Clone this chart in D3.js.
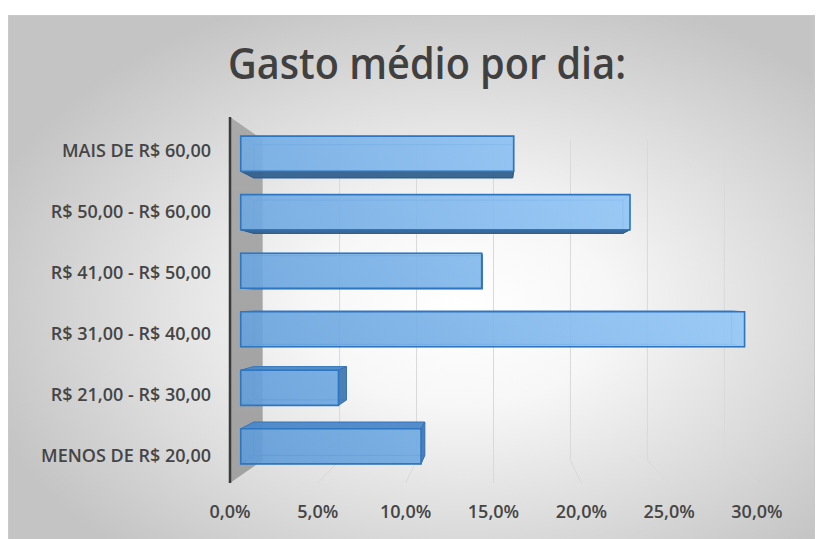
<!DOCTYPE html>
<html>
<head>
<meta charset="utf-8">
<script src="https://cdn.jsdelivr.net/npm/d3@7"></script>
<style>
  body { margin: 0; background: #ffffff; }
  svg { display: block; }
</style>
</head>
<body>
<svg id="chart" width="816" height="539"></svg>
<script>
// ---- data ----
const title = "Gasto médio por dia:";
const categories = [
  "MAIS DE R$ 60,00",
  "R$ 50,00 - R$ 60,00",
  "R$ 41,00 - R$ 50,00",
  "R$ 31,00 - R$ 40,00",
  "R$ 21,00 - R$ 30,00",
  "MENOS DE R$ 20,00"
];
const values = [0.162, 0.231, 0.143, 0.299, 0.058, 0.107];
const tickValues = [0, 0.05, 0.10, 0.15, 0.20, 0.25, 0.30];
const tickLabels = ["0,0%", "5,0%", "10,0%", "15,0%", "20,0%", "25,0%", "30,0%"];

// ---- layout ----
const svg = d3.select("#chart");
const font = "'Open Sans', 'DejaVu Sans', sans-serif";

// front-plane scales (z = 0); deeper planes are projected toward the vanishing point
const x = d3.scaleLinear().domain([0, 0.30]).range([230, 757]);
const y = d3.scaleBand().domain(categories).range([117, 483])
  .paddingInner(0.4).paddingOuter(0.2);
const VX = x(0.15), VY = 300, C = 0.1416;
function P(X, Y, z) {
  const s = 1 / (1 + C * z);
  return [VX + (X - VX) * s, VY + (Y - VY) * s];
}
const poly = pts => "M" + pts.map(p => p[0].toFixed(2) + "," + p[1].toFixed(2)).join("L") + "Z";

const defs = svg.append("defs");
const bg = defs.append("radialGradient").attr("id", "bg")
  .attr("cx", 0.56).attr("cy", 0.55).attr("r", 0.62);
bg.append("stop").attr("offset", 0).attr("stop-color", "#ffffff");
bg.append("stop").attr("offset", 0.3).attr("stop-color", "#f7f7f7");
bg.append("stop").attr("offset", 1).attr("stop-color", "#c4c4c4");

const wallG = defs.append("linearGradient").attr("id", "wall")
  .attr("x1", 0).attr("y1", 0).attr("x2", 0).attr("y2", 1);
wallG.append("stop").attr("offset", 0).attr("stop-color", "#a9a9a9");
wallG.append("stop").attr("offset", 1).attr("stop-color", "#a2a2a2");

const barG = defs.append("linearGradient").attr("id", "barFront")
  .attr("gradientUnits", "userSpaceOnUse")
  .attr("x1", 240).attr("y1", 470).attr("x2", 640).attr("y2", 170);
barG.append("stop").attr("offset", 0).attr("stop-color", "#5e9bd8");
barG.append("stop").attr("offset", 1).attr("stop-color", "#96c9f9");

// chart panel
svg.append("rect").attr("x", 8.5).attr("y", 15.5).attr("width", 806).attr("height", 530)
  .attr("fill", "url(#bg)").attr("stroke", "#c8c8c8").attr("stroke-width", 1);

// title
svg.append("text").attr("x", 427).attr("y", 79)
  .attr("text-anchor", "middle")
  .attr("font-family", font).attr("font-size", 43).attr("font-weight", 600)
  .attr("fill", "#404040")
  .attr("textLength", 398).attr("lengthAdjust", "spacingAndGlyphs")
  .text(title);

// plot box extents
const yTop = y.range()[0], yBot = y.range()[1];

// side wall
svg.append("path")
  .attr("d", poly([P(x(0), yTop, 0), P(x(0), yTop, 1), P(x(0), yBot, 1), P(x(0), yBot, 0)]))
  .attr("fill", "url(#wall)");
svg.append("line")
  .attr("x1", x(0)).attr("y1", yTop).attr("x2", x(0)).attr("y2", yBot)
  .attr("stroke", "#3a3a3a").attr("stroke-width", 2.5);

// gridlines on the back wall and across the floor
const grid = svg.append("g").attr("stroke", "#d9d9d9").attr("stroke-width", 1).attr("fill", "none");
tickValues.filter(v => v > 0).forEach(v => {
  const a = P(x(v), yTop, 1), b = P(x(v), yBot, 1), c = P(x(v), yBot, 0);
  grid.append("path").attr("d", `M${a[0]},${a[1]}L${b[0]},${b[1]}L${c[0]},${c[1]}`);
});

// tick labels along the front edge of the floor
svg.append("g").selectAll("text").data(tickValues).join("text")
  .attr("x", d => x(d)).attr("y", 518)
  .attr("text-anchor", "middle")
  .attr("font-family", font).attr("font-size", 18).attr("font-weight", 600)
  .attr("fill", "#454545")
  .text((d, i) => tickLabels[i]);

// category labels
svg.append("g").selectAll("text").data(categories).join("text")
  .attr("x", 211).attr("y", d => y(d) + y.bandwidth() / 2 + 9.8)
  .attr("text-anchor", "end")
  .attr("font-family", font).attr("font-size", 18).attr("font-weight", 600)
  .attr("fill", "#454545")
  .text(d => d);

// 3D bars
const zf = 0.3, zb = 0.7;
const bars = svg.append("g");
categories.forEach((cat, i) => {
  const v = values[i];
  const X0 = x(0), X1 = x(v), Yt = y(cat), Yb = Yt + y.bandwidth();
  const g = bars.append("g");
  const face = pts => poly(pts);
  // faces hidden from view, seen through the translucent bar
  const hidden = [
    [P(X0, Yt, zb), P(X1, Yt, zb), P(X1, Yb, zb), P(X0, Yb, zb)],
    [P(X0, Yt, zf), P(X0, Yt, zb), P(X0, Yb, zb), P(X0, Yb, zf)]
  ];
  if (Yb < VY) hidden.push([P(X0, Yt, zf), P(X1, Yt, zf), P(X1, Yt, zb), P(X0, Yt, zb)]);
  if (Yt > VY) hidden.push([P(X0, Yb, zf), P(X1, Yb, zf), P(X1, Yb, zb), P(X0, Yb, zb)]);
  if (X1 >= VX) hidden.push([P(X1, Yt, zf), P(X1, Yt, zb), P(X1, Yb, zb), P(X1, Yb, zf)]);
  hidden.forEach(h => g.append("path").attr("d", face(h))
    .attr("fill", "#4a88cc").attr("fill-opacity", 0.18)
    .attr("stroke", "#3d7cc4").attr("stroke-opacity", 0.45).attr("stroke-width", 1));

  // bottom face (bars above eye level) / top face (below eye level)
  if (Yb < VY) {
    g.append("path").attr("d", face([P(X0, Yb, zf), P(X1, Yb, zf), P(X1, Yb, zb), P(X0, Yb, zb)]))
      .attr("fill", "#34618f").attr("fill-opacity", 0.95)
      .attr("stroke", "#2c5a88").attr("stroke-width", 1);
  }
  if (Yt > VY) {
    g.append("path").attr("d", face([P(X0, Yt, zf), P(X1, Yt, zf), P(X1, Yt, zb), P(X0, Yt, zb)]))
      .attr("fill", "#4d88c8").attr("fill-opacity", 0.95)
      .attr("stroke", "#3a78bd").attr("stroke-width", 1);
  }
  // end face for bars finishing left of the vanishing point
  if (X1 < VX) {
    g.append("path").attr("d", face([P(X1, Yt, zf), P(X1, Yt, zb), P(X1, Yb, zb), P(X1, Yb, zf)]))
      .attr("fill", "#4479b4").attr("fill-opacity", 0.95)
      .attr("stroke", "#3a72b0").attr("stroke-width", 1);
  }
  // front face
  g.append("path").attr("d", face([P(X0, Yt, zf), P(X1, Yt, zf), P(X1, Yb, zf), P(X0, Yb, zf)]))
    .attr("fill", "url(#barFront)").attr("fill-opacity", 0.88)
    .attr("stroke", "#2f76c0").attr("stroke-width", 1.6);
});
</script>
</body>
</html>
